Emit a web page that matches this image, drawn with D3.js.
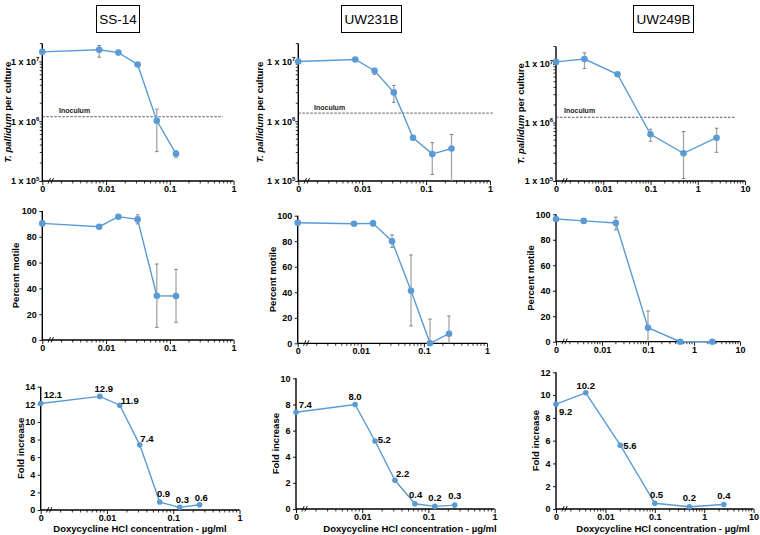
<!DOCTYPE html>
<html><head><meta charset="utf-8">
<script src="https://cdn.jsdelivr.net/npm/d3@7"></script>
<style>
body{margin:0;background:#fff}
svg{display:block}
text{font-family:"Liberation Sans",Arial,sans-serif}
</style>
</head><body>
<svg id="c" width="760" height="535"></svg>
<script>
// ---------------- DATA ----------------
const strains = ["SS-14", "UW231B", "UW249B"];

// doxycycline concentrations (µg/ml); 0 is drawn at the axis break
const ss14Conc = [0, 0.0078, 0.0156, 0.03125, 0.0625, 0.125];
const ss14FoldConc = [0, 0.0078, 0.0156, 0.03125, 0.0625, 0.125, 0.25];
const uw231bConc = [0, 0.0078, 0.0156, 0.03125, 0.0625, 0.125, 0.25];
const uw249bConc = [0, 0.004, 0.02, 0.1, 0.5, 2.5];

// T. pallidum per culture (whisker ends as values; null = no whisker)
const ss14Count   = [1.45e7, 1.57e7, 1.41e7, 8.9e6, 1.02e6, 2.85e5];
const ss14CountHi = [null, 1.85e7, 1.52e7, null, 1.59e6, 3.2e5];
const ss14CountLo = [null, 1.18e7, 1.30e7, null, 3.1e5, 2.5e5];
const uw231bCount   = [1.0e7, 1.08e7, 7.0e6, 3.04e6, 5.27e5, 2.82e5, 3.5e5];
const uw231bCountHi = [null, null, 7.6e6, 3.98e6, null, 4.4e5, 6.0e5];
const uw231bCountLo = [null, null, 6.1e6, 2.07e6, null, 1.29e5, 5e4];
const uw249bCount   = [1.09e7, 1.22e7, 6.7e6, 6.3e5, 2.98e5, 5.5e5];
const uw249bCountHi = [null, 1.56e7, null, 7.7e5, 7.0e5, 8.0e5];
const uw249bCountLo = [null, 8.4e6, null, 4.8e5, 1.1e5, 3.1e5];
const inoculum = [1.19e6, 1.37e6, 1.23e6];

// Percent motile
const ss14Motile   = [90.4, 87.8, 95.6, 93.5, 34.3, 34.1];
const ss14MotileHi = [null, null, null, 97.1, 58.9, 54.8];
const ss14MotileLo = [null, null, null, 90.0, 9.8, 13.7];
const uw231bMotile   = [94.5, 93.7, 94.0, 80.0, 41.2, 0, 7.5];
const uw231bMotileHi = [null, null, 96.0, 85.0, 69.2, 19.0, 21.4];
const uw231bMotileLo = [null, null, 92.0, 75.0, 13.6, 0, 0];
const uw249bMotile   = [96.3, 94.8, 93.2, 11.0, 0, 0];
const uw249bMotileHi = [null, null, 97.7, 24.1, null, null];
const uw249bMotileLo = [null, null, 87.7, 0, null, null];

// Fold increase
const ss14Fold   = [12.1, 12.9, 11.9, 7.4, 0.9, 0.3, 0.6];
const uw231bFold = [7.4, 8.0, 5.2, 2.2, 0.4, 0.2, 0.3];
const uw249bFold = [9.2, 10.2, 5.6, 0.5, 0.2, 0.4];

// tick labels
const xTicks1 = [0.001, 0.01, 0.1, 1];
const xTickLabels1 = ["0", "0.01", "0.1", "1"];
const xTicks10 = [0.001, 0.01, 0.1, 1, 10];
const xTickLabels10 = ["0", "0.01", "0.1", "1", "10"];
const logYTicks = [1e5, 1e6, 1e7];
const logYExp = ["5", "6", "7"];
const motileTicks = [0, 20, 40, 60, 80, 100];
const foldTicksA = [0, 2, 4, 6, 8, 10, 12, 14];
const foldTicksB = [0, 2, 4, 6, 8, 10];
const foldTicksC = [0, 2, 4, 6, 8, 10, 12];

const xAxisTitle = "Doxycycline HCl concentration - µg/ml";

// ---------------- LAYOUT ----------------
const BLUE = "#5B9BD5";
const svg = d3.select("#c");

const panels = [
  // top row (log)
  {kind:"log", conc:ss14Conc, v:ss14Count, hi:ss14CountHi, lo:ss14CountLo, inoc:inoculum[0],
   xr:[42.3,233.6], xmax:1, xt:xTicks1, xl:xTickLabels1, yd:[1e5,2e7], yr:[181,43.5],
   ylabX:10.5, inocLab:[59,113], inocEnd:223},
  {kind:"log", conc:uw231bConc, v:uw231bCount, hi:uw231bCountHi, lo:uw231bCountLo, inoc:inoculum[1],
   xr:[298.3,490], xmax:1, xt:xTicks1, xl:xTickLabels1, yd:[1e5,2e7], yr:[181,43.5],
   ylabX:262.5, inocLab:[314,109.5], inocEnd:493},
  {kind:"log", conc:uw249bConc, v:uw249bCount, hi:uw249bCountHi, lo:uw249bCountLo, inoc:inoculum[2],
   xr:[556,745], xmax:10, xt:xTicks10, xl:xTickLabels10, yd:[1e5,2e7], yr:[181,46.5],
   ylabX:523.5, inocLab:[564,112.5], inocEnd:736},
  // middle row
  {kind:"lin", conc:ss14Conc, v:ss14Motile, hi:ss14MotileHi, lo:ss14MotileLo,
   xr:[42.3,233.6], xmax:1, xt:xTicks1, xl:xTickLabels1, yd:[0,100], yr:[340,211], yt:motileTicks,
   ylab:"Percent motile", ylabX:18.5},
  {kind:"lin", conc:uw231bConc, v:uw231bMotile, hi:uw231bMotileHi, lo:uw231bMotileLo,
   xr:[297.7,487], xmax:1, xt:xTicks1, xl:xTickLabels1, yd:[0,100], yr:[343.3,215.7], yt:motileTicks,
   ylab:"Percent motile", ylabX:275.5},
  {kind:"lin", conc:uw249bConc, v:uw249bMotile, hi:uw249bMotileHi, lo:uw249bMotileLo,
   xr:[556,740], xmax:10, xt:xTicks10, xl:xTickLabels10, yd:[0,100], yr:[341.7,214.3], yt:motileTicks,
   ylab:"Percent motile", ylabX:534},
  // bottom row
  {kind:"fold", conc:ss14FoldConc, v:ss14Fold,
   xr:[40.7,239.5], xmax:1, xt:xTicks1, xl:xTickLabels1, yd:[0,14], yr:[510,386.7], yt:foldTicksA,
   ylab:"Fold increase", ylabX:24, xtitleX:140,
   lab:[[12.2,-5],[4,-4.5],[10,-1.5],[7.2,-3],[3.8,-5],[2.7,-4],[1.7,-4]]},
  {kind:"fold", conc:uw231bConc, v:uw231bFold,
   xr:[296,494.6], xmax:1, xt:xTicks1, xl:xTickLabels1, yd:[0,10], yr:[509,378.3], yt:foldTicksB,
   ylab:"Fold increase", ylabX:278.5, xtitleX:410,
   lab:[[9.3,-4.2],[0,-4.5],[9.3,1.8],[7.7,-3.2],[0.7,-5.5],[0,-5.8],[0,-5.8]]},
  {kind:"fold", conc:uw249bConc, v:uw249bFold,
   xr:[556,753.6], xmax:10, xt:xTicks10, xl:xTickLabels10, yd:[0,12], yr:[509,372.3], yt:foldTicksC,
   ylab:"Fold increase", ylabX:538.5, xtitleX:663,
   lab:[[9.7,10.5],[0,-4.2],[9.7,3.8],[1.7,-5.5],[0,-5.9],[0,-5.5]]}
];

const fmt = v => (+v).toFixed(1);

panels.forEach(p => {
  const g = svg.append("g");
  const x = d3.scaleLog().domain([0.001, p.xmax]).range(p.xr);
  const y = (p.kind === "log" ? d3.scaleLog() : d3.scaleLinear()).domain(p.yd).range(p.yr);
  const xp = c => x(c === 0 ? 0.001 : c);
  const yb = p.yr[0], x0 = p.xr[0];

  // x axis with ticks (major + minor)
  const xAxis = d3.axisBottom(x).tickValues(p.xt).tickFormat((d, i) => p.xl[i]).tickSize(4).tickPadding(0.5);
  const gx = g.append("g").attr("transform", `translate(0,${yb})`).call(xAxis);
  const minors = [];
  for (let e = -3; e < Math.log10(p.xmax); e++) for (let k = 2; k <= 9; k++) minors.push(k * Math.pow(10, e));
  gx.selectAll(".mnr").data(minors).enter().append("line").attr("class", "mnr")
    .attr("x1", d => x(d)).attr("x2", d => x(d)).attr("y1", 0).attr("y2", 2.5)
    .attr("stroke", "#000").attr("stroke-width", 0.8);
  gx.select(".domain").attr("d", `M${p.xr[0]},0H${p.xr[1]}`).attr("stroke", "#000").attr("stroke-width", 1.3);
  gx.selectAll(".tick line").attr("stroke", "#000").attr("stroke-width", 0.9);
  gx.selectAll(".tick text").attr("font-size", 9).attr("font-weight", "bold").attr("fill", "#000")
    .attr("font-family", "'Liberation Sans',Arial,sans-serif");

  // y axis
  let yAxis;
  if (p.kind === "log") {
    yAxis = d3.axisLeft(y).tickValues(logYTicks).tickFormat("").tickSize(3);
  } else {
    yAxis = d3.axisLeft(y).tickValues(p.yt).tickFormat(d3.format("d")).tickSize(3).tickPadding(2.5);
  }
  const gy = g.append("g").attr("transform", `translate(${x0},0)`).call(yAxis);
  gy.select(".domain").attr("d", `M0,${p.yr[0]}V${p.yr[1]}`).attr("stroke", "#000").attr("stroke-width", 1.4);
  gy.selectAll(".tick line").attr("stroke", "#000").attr("stroke-width", 0.9);
  gy.selectAll(".tick text").attr("font-size", 9).attr("font-weight", "bold").attr("fill", "#000")
    .attr("font-family", "'Liberation Sans',Arial,sans-serif");
  if (p.kind === "log") {
    const yMin = [];
    for (let e = 5; e <= 7; e++) for (let k = 2; k <= 9; k++) { const v = k * Math.pow(10, e); if (v <= p.yd[1]) yMin.push(v); }
    gy.selectAll(".ymn").data(yMin).enter().append("line")
      .attr("x1", 0).attr("x2", -2.5).attr("y1", d => y(d)).attr("y2", d => y(d))
      .attr("stroke", "#000").attr("stroke-width", 0.8);
    const lt = gy.selectAll(".ylt").data(logYTicks).enter().append("text")
      .attr("x", -3).attr("y", d => y(d) + 3.3).attr("text-anchor", "end")
      .attr("font-size", 9).attr("font-weight", "bold").attr("fill", "#000");
    lt.each(function (d, i) {
      const t = d3.select(this);
      t.append("tspan").text("1 x 10");
      t.append("tspan").attr("dy", -3.8).attr("font-size", 6).text(logYExp[i]);
    });
    // axis title with italic species
    const yt = g.append("text").attr("transform", `translate(${p.ylabX},${(p.yr[0] + p.yr[1]) / 2}) rotate(-90)`)
      .attr("text-anchor", "middle").attr("font-size", 9.5).attr("font-weight", "bold").attr("fill", "#000");
    yt.append("tspan").attr("font-style", "italic").text("T. pallidum");
    yt.append("tspan").text(" per culture");
    // inoculum line
    g.append("line").attr("x1", x0).attr("x2", p.inocEnd).attr("y1", y(p.inoc)).attr("y2", y(p.inoc))
      .attr("stroke", "#333").attr("stroke-width", 0.8).attr("stroke-dasharray", "2.5,1.5");
    g.append("text").attr("x", p.inocLab[0]).attr("y", p.inocLab[1]).attr("font-size", 7)
      .attr("font-weight", "bold").attr("fill", "#222").text("Inoculum");
  } else {
    g.append("text").attr("transform", `translate(${p.ylabX},${(p.yr[0] + p.yr[1]) / 2}) rotate(-90)`)
      .attr("text-anchor", "middle").attr("font-size", 9.5).attr("font-weight", "bold").attr("fill", "#000")
      .text(p.ylab);
  }

  // axis break marks
  const bx = x0 + 7;
  [0, 3].forEach(o => {
    g.append("line").attr("x1", bx + o - 1.2).attr("y1", yb + 2.5).attr("x2", bx + o + 1.2).attr("y2", yb - 3)
      .attr("stroke", "#000").attr("stroke-width", 0.9);
  });

  // error bars
  if (p.hi) {
    const ymin = p.yr[0], ymax = p.yr[1];
    const clampY = v => Math.max(ymax, Math.min(ymin, (p.kind === "log" && v < p.yd[0]) ? ymin : y(v)));
    p.v.forEach((v, i) => {
      if (p.hi[i] == null) return;
      const cx = xp(p.conc[i]);
      const yt = clampY(p.hi[i]), ybt = clampY(p.lo[i]);
      g.append("line").attr("x1", cx).attr("x2", cx).attr("y1", yt).attr("y2", ybt)
        .attr("stroke", "#A6A6A6").attr("stroke-width", 1.3);
      g.append("line").attr("x1", cx - 1.8).attr("x2", cx + 1.8).attr("y1", yt).attr("y2", yt)
        .attr("stroke", "#777").attr("stroke-width", 0.9);
      if (ybt < ymin - 0.5)
        g.append("line").attr("x1", cx - 1.8).attr("x2", cx + 1.8).attr("y1", ybt).attr("y2", ybt)
          .attr("stroke", "#777").attr("stroke-width", 0.9);
    });
  }

  // line + markers
  const pts = p.v.map((v, i) => [xp(p.conc[i]), y(v)]);
  g.append("path").attr("d", d3.line()(pts)).attr("fill", "none").attr("stroke", BLUE).attr("stroke-width", 1.4);
  g.selectAll(".pt").data(pts).enter().append("circle")
    .attr("cx", d => d[0]).attr("cy", d => d[1]).attr("r", p.kind === "fold" ? 2.8 : 3.3).attr("fill", BLUE);

  // data labels + x title for bottom row
  if (p.kind === "fold") {
    g.selectAll(".dl").data(p.v).enter().append("text")
      .attr("x", (d, i) => pts[i][0] + p.lab[i][0]).attr("y", (d, i) => pts[i][1] + p.lab[i][1])
      .attr("text-anchor", "middle").attr("font-size", 9.5).attr("font-weight", "bold").attr("fill", "#000")
      .text(d => fmt(d));
    g.append("text").attr("x", p.xtitleX).attr("y", 532).attr("text-anchor", "middle")
      .attr("font-size", 9.5).attr("font-weight", "bold").attr("fill", "#000").text(xAxisTitle);
  }
});

// strain title boxes
const titleBoxes = [[96, 43], [341, 60], [633, 60]];
strains.forEach((s, i) => {
  const [bx, bw] = titleBoxes[i];
  svg.append("rect").attr("x", bx + 0.5).attr("y", 5.5).attr("width", bw).attr("height", 27)
    .attr("fill", "#fff").attr("stroke", "#000").attr("stroke-width", 1);
  svg.append("text").attr("x", bx + bw / 2 + 0.5).attr("y", 24).attr("text-anchor", "middle")
    .attr("font-size", 13.5).attr("fill", "#000").text(s);
});
</script>
</body></html>
